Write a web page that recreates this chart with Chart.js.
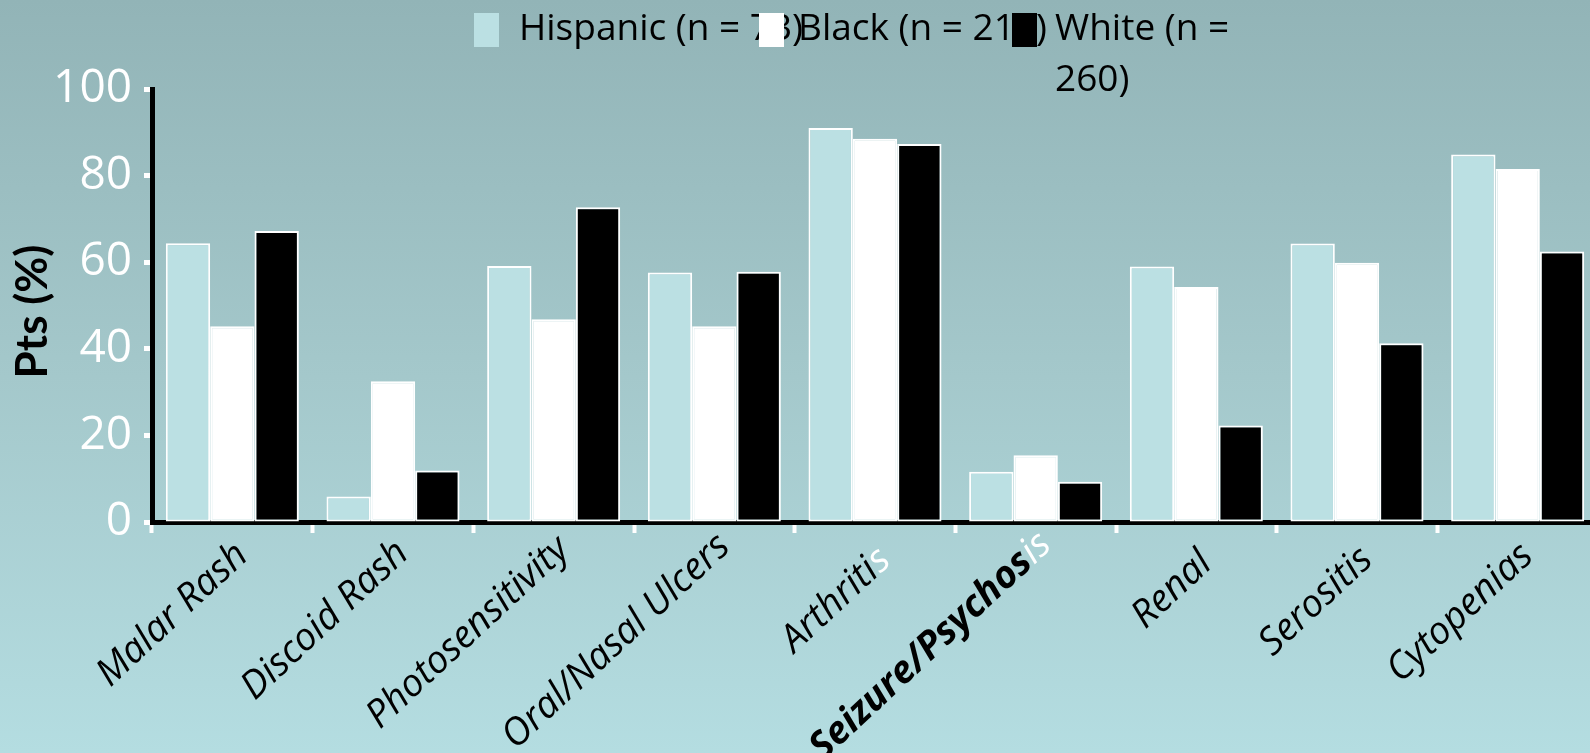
<!DOCTYPE html>
<html>
<head>
<meta charset="utf-8">
<script src="https://cdn.jsdelivr.net/npm/chart.js@4"></script>
<style>
  html, body { margin: 0; padding: 0; overflow: hidden; width: 1590px; height: 753px;
    background: linear-gradient(to bottom, #92b4b7 0%, #a4c8cb 50%, #b4dde1 100%); }
  #wrap { position: absolute; left: 0; top: 0; width: 1598px; height: 753px; }
</style>
</head>
<body>
<div id="wrap"><canvas id="c"></canvas></div>
<script>
// Share of patients (%) with each clinical manifestation, by ethnic group
const categories = ['Malar Rash', 'Discoid Rash', 'Photosensitivity', 'Oral/Nasal Ulcers', 'Arthritis',
                    'Seizure/Psychosis', 'Renal', 'Serositis', 'Cytopenias'];
const hispanic = [64.4, 5.9, 59.1, 57.6, 91.0, 11.6, 59.0, 64.3, 84.9];
const black    = [45.2, 32.5, 46.8, 45.2, 88.5, 15.4, 54.3, 59.9, 81.5];
const white    = [67.2, 11.9, 72.7, 57.8, 87.3,  9.3, 22.3, 41.3, 62.5];
const seriesLabels = ['Hispanic (n = 73)', 'Black (n = 215)', 'White (n = 260)'];
const yTicks = [0, 20, 40, 60, 80, 100];
const yTitle = 'Pts (%)';
// category names: how many trailing letters are set in white, and which names are bold
const labelWhiteTail = [0, 0, 0, 0, 1, 2, 0, 0, 0];
const labelBold = [false, false, false, false, false, true, false, false, false];

const seriesFill = ['#bbe0e3', '#ffffff', '#000000'];

// Legend drawn item by item, each swatch painted after the previous text
const overlapLegend = {
  id: 'overlapLegend',
  afterDraw(chart) {
    const ctx = chart.ctx;
    const boxX = [474, 759, 1012];
    const textX = [519, 798, 1055];
    const wrapLimit = 1250;
    ctx.save();
    chart.data.datasets.forEach((ds, i) => {
      ctx.fillStyle = ds.backgroundColor;
      ctx.fillRect(boxX[i], 13, 25, 34);
      ctx.font = '37px "Open Sans"';
      ctx.fillStyle = '#000';
      ctx.textAlign = 'left';
      ctx.textBaseline = 'alphabetic';
      const tx = textX[i];
      // word wrap against the right limit
      const words = ds.label.split(' ');
      let line = '', lineY = 40;
      words.forEach(w => {
        const test = line ? line + ' ' + w : w;
        if (line && tx + ctx.measureText(test).width > wrapLimit) {
          ctx.fillText(line, tx, lineY);
          line = w; lineY += 51;
        } else {
          line = test;
        }
      });
      ctx.fillText(line, tx, lineY);
    });
    ctx.restore();
  }
};

// Slanted category names under the x axis, plus the vertical axis title
const axisText = {
  id: 'axisText',
  afterDraw(chart) {
    const xs = chart.scales.x;
    const ys = chart.scales.y;
    const ctx = chart.ctx;
    const size = 38;
    ctx.save();
    categories.forEach((name, i) => {
      const n = labelWhiteTail[i];
      const head = name.slice(0, name.length - n);
      const tail = name.slice(name.length - n);
      const headFont = 'italic ' + (labelBold[i] ? 'bold ' : '') + size + 'px "Open Sans"';
      const tailFont = 'italic ' + size + 'px "Open Sans"';
      ctx.font = tailFont;
      const tw = tail ? ctx.measureText(tail).width : 0;
      ctx.font = headFont;
      const total = tw + ctx.measureText(head).width;
      // shorter names hang a little lower under the axis
      const x = xs.getPixelForValue(i) + 10;
      const y = chart.chartArea.bottom + 44 - 0.085 * total;
      ctx.save();
      ctx.translate(x, y);
      ctx.rotate(-43 * Math.PI / 180);
      ctx.textAlign = 'right';
      ctx.textBaseline = 'middle';
      if (tail) { ctx.font = tailFont; ctx.fillStyle = '#ffffff'; ctx.fillText(tail, 0, 0); }
      ctx.font = headFont;
      ctx.fillStyle = '#000000';
      ctx.fillText(head, -tw, 0);
      ctx.restore();
    });
    // axis title
    ctx.save();
    ctx.translate(33, (ys.top + ys.bottom) / 2 + 6);
    ctx.rotate(-Math.PI / 2);
    ctx.font = 'bold 44px Lato';
    ctx.fillStyle = '#000000';
    ctx.textAlign = 'center';
    ctx.textBaseline = 'middle';
    ctx.fillText(yTitle, 0, 0);
    ctx.restore();
    ctx.restore();
  }
};

new Chart(document.getElementById('c'), {
  type: 'bar',
  data: {
    labels: categories,
    datasets: [hispanic, black, white].map((vals, i) => ({
      label: seriesLabels[i],
      data: vals,
      backgroundColor: seriesFill[i],
      borderColor: '#ffffff',
      borderWidth: 2,
      borderSkipped: false,
      categoryPercentage: 0.828,
      barPercentage: 1.0
    }))
  },
  options: {
    responsive: true,
    maintainAspectRatio: false,
    animation: false,
    layout: { padding: { top: 89, left: 0, right: 0, bottom: 0 } },
    plugins: {
      legend: { display: false },
      tooltip: { enabled: false }
    },
    scales: {
      x: {
        grid: { display: true, offset: true, drawOnChartArea: false, drawTicks: true,
                tickLength: 11, tickWidth: 4, tickColor: '#ffffff' },
        border: { display: true, color: '#000000', width: 5 },
        ticks: { display: false },
        afterFit(scale) { scale.height = 231; }
      },
      y: {
        min: 0, max: 100,
        afterBuildTicks(scale) { scale.ticks = yTicks.map(v => ({ value: v })); },
        grid: { display: true, drawOnChartArea: false, drawTicks: true,
                tickLength: 8, tickWidth: 5, tickColor: '#ffffff' },
        border: { display: true, color: '#000000', width: 5 },
        ticks: { color: '#ffffff', font: { family: '"Open Sans"', size: 46 }, padding: 12 },
        title: { display: false },
        afterFit(scale) { scale.width = 152; }
      }
    }
  },
  plugins: [overlapLegend, axisText]
});
</script>
</body>
</html>
